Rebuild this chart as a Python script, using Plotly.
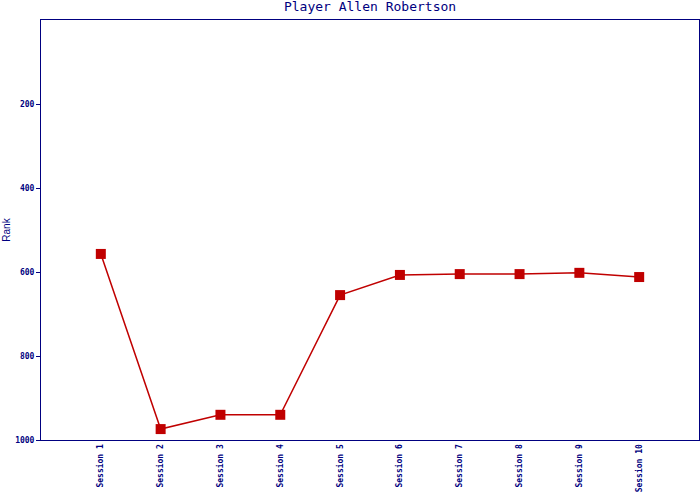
import plotly.graph_objects as go

sessions = ["Session 1", "Session 2", "Session 3", "Session 4", "Session 5",
            "Session 6", "Session 7", "Session 8", "Session 9", "Session 10"]
ranks = [557, 974, 940, 940, 655, 607, 605, 605, 602, 612]
y_ticks = [200, 400, 600, 800, 1000]

navy = "#000080"
red = "#c00000"

fig = go.Figure()
fig.add_trace(go.Scatter(
    x=list(range(len(sessions))), y=ranks, mode="lines+markers",
    line=dict(color=red, width=1.5),
    marker=dict(symbol="square", size=10, color=red),
    showlegend=False,
))

fig.update_layout(
    width=700, height=500,
    margin=dict(l=41, r=1, t=20, b=60),
    paper_bgcolor="white", plot_bgcolor="white",
    title=dict(text="Player Allen Robertson", x=0.5286, xanchor="center",
               y=0.996, yanchor="top",
               font=dict(family="DejaVu Sans Mono", size=13, color=navy)),
    xaxis=dict(
        range=[-1, 10], tickmode="array",
        tickvals=list(range(len(sessions))), ticktext=sessions,
        tickangle=-90, showgrid=False, zeroline=False,
        showline=True, linecolor=navy, linewidth=1, mirror=True,
        ticks="", tickfont=dict(family="DejaVu Sans Mono", size=8, color=navy, weight="bold"),
    ),
    yaxis=dict(
        range=[1000, 0], tickmode="array", tickvals=y_ticks,
        ticktext=[str(v) for v in y_ticks],
        showgrid=False, zeroline=False, automargin=False,
        showline=True, linecolor=navy, linewidth=1, mirror=True,
        ticks="outside", ticklen=4, tickcolor=navy,
        tickfont=dict(family="DejaVu Sans Mono", size=8, color=navy, weight="bold"),
        title=dict(text="Rank", standoff=2,
                   font=dict(family="Liberation Sans", size=10, color=navy)),
    ),
)

fig.write_html("out.html", config={"displayModeBar": False},
               post_script="document.body.style.margin='0px';document.body.style.overflow='hidden';")
